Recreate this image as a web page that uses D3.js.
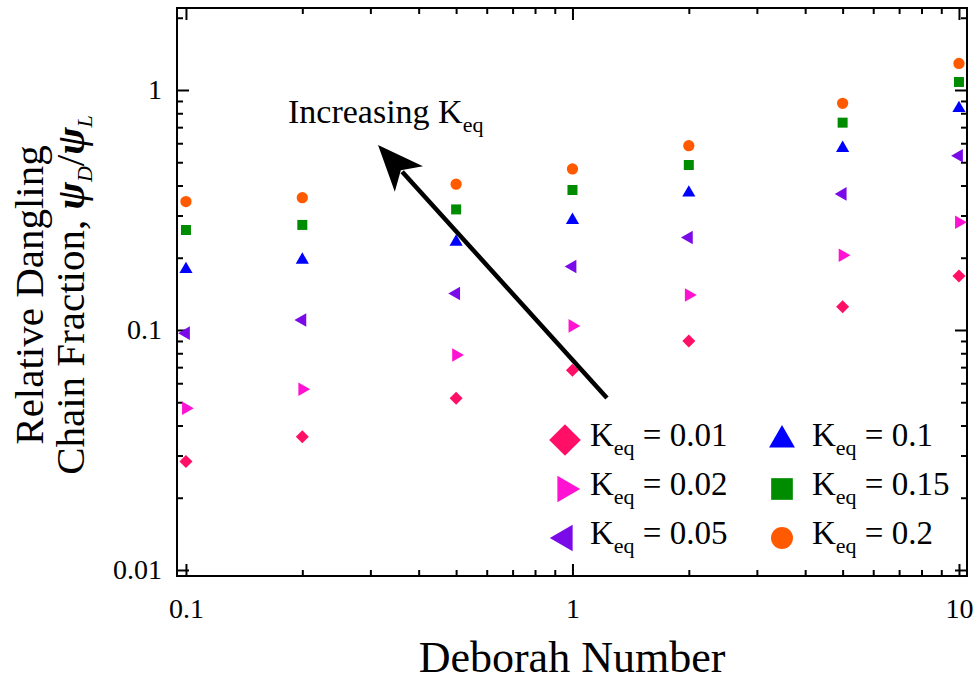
<!DOCTYPE html>
<html>
<head>
<meta charset="utf-8">
<script src="https://cdn.jsdelivr.net/npm/d3@7"></script>
<style>
  html, body { margin: 0; padding: 0; background: #fff; }
  svg { display: block; font-family: "Liberation Serif", "Times New Roman", serif; }
</style>
</head>
<body>
<svg id="chart" width="976" height="681"></svg>
<script>
// ---- data ----
const deborah = [0.1, 0.2, 0.5, 1, 2, 5, 10];
const keq001 = [0.0283, 0.0359, 0.0519, 0.068, 0.090, 0.125, 0.168];
const keq002 = [0.0472, 0.0566, 0.0787, 0.104, 0.140, 0.205, 0.281];
const keq005 = [0.097, 0.110, 0.142, 0.184, 0.243, 0.369, 0.532];
const keq010 = [0.179, 0.196, 0.233, 0.287, 0.373, 0.572, 0.839];
const keq015 = [0.261, 0.274, 0.318, 0.383, 0.487, 0.731, 1.08];
const keq020 = [0.343, 0.356, 0.405, 0.469, 0.586, 0.880, 1.29];
const seriesLabels = ["0.01", "0.02", "0.05", "0.1", "0.15", "0.2"];
const xTickValues = [0.1, 1, 10];
const xTickLabels = ["0.1", "1", "10"];
const yTickValues = [0.01, 0.1, 1];
const yTickLabels = ["0.01", "0.1", "1"];
const arrowTail = [1.228, 0.0521];
const arrowTip = [0.314, 0.590];

// ---- layout ----
const svg = d3.select("#chart");
const L = 177, R = 967, T = 8, B = 576;
const x = d3.scaleLog().domain([0.0948, 10.49]).range([L, R]);
const y = d3.scaleLog().domain([0.00944, 2.196]).range([B, T]);

const series = [
  {vals: keq001, color: "#FF0F66", type: d3.symbolSquare, rot: 45, size: 85, lsize: 500},
  {vals: keq002, color: "#FF12D2", type: d3.symbolTriangle, rot: 90, size: 80, lsize: 300},
  {vals: keq005, color: "#7A0AE8", type: d3.symbolTriangle, rot: -90, size: 80, lsize: 300},
  {vals: keq010, color: "#0000FF", type: d3.symbolTriangle, rot: 0, size: 75, lsize: 290},
  {vals: keq015, color: "#008C00", type: d3.symbolSquare, rot: 0, size: 100, lsize: 470},
  {vals: keq020, color: "#FF5A00", type: d3.symbolCircle, rot: 0, size: 100, lsize: 380}
];

// minor ticks
function minors(lo, hi) {
  const out = [];
  for (let d = lo; d < hi * 1.0001; d *= 10) {
    for (let k = 2; k <= 9; k++) out.push(+(d * k).toPrecision(3));
  }
  return out;
}
const xMinor = minors(0.1, 1).filter(v => v <= x.domain()[1]);
const yMinor = minors(0.01, 1).filter(v => v <= y.domain()[1]);

const axG = svg.append("g");
function styleAxis(g) {
  g.select(".domain").remove();
  g.selectAll("line").attr("stroke", "#000").attr("stroke-width", 2);
  g.selectAll("text").attr("font-size", 28).attr("fill", "#000")
    .attr("font-family", "Liberation Serif, Times New Roman, serif");
}
// bottom
axG.append("g").attr("transform", `translate(0,${B})`)
  .call(d3.axisBottom(x).tickValues(xTickValues).tickFormat((d, i) => xTickLabels[i]).tickSizeInner(-12).tickSizeOuter(0).tickPadding(22))
  .call(styleAxis);
axG.append("g").attr("transform", `translate(0,${B})`)
  .call(d3.axisBottom(x).tickValues(xMinor).tickFormat("").tickSizeInner(-6).tickSizeOuter(0))
  .call(styleAxis);
// top
axG.append("g").attr("transform", `translate(0,${T})`)
  .call(d3.axisTop(x).tickValues(xTickValues).tickFormat("").tickSizeInner(-12).tickSizeOuter(0))
  .call(styleAxis);
axG.append("g").attr("transform", `translate(0,${T})`)
  .call(d3.axisTop(x).tickValues(xMinor).tickFormat("").tickSizeInner(-6).tickSizeOuter(0))
  .call(styleAxis);
// left
axG.append("g").attr("transform", `translate(${L},0)`)
  .call(d3.axisLeft(y).tickValues(yTickValues).tickFormat((d, i) => yTickLabels[i]).tickSizeInner(-12).tickSizeOuter(0).tickPadding(15))
  .call(styleAxis);
axG.append("g").attr("transform", `translate(${L},0)`)
  .call(d3.axisLeft(y).tickValues(yMinor).tickFormat("").tickSizeInner(-6).tickSizeOuter(0))
  .call(styleAxis);
// right
axG.append("g").attr("transform", `translate(${R},0)`)
  .call(d3.axisRight(y).tickValues(yTickValues).tickFormat("").tickSizeInner(-12).tickSizeOuter(0))
  .call(styleAxis);
axG.append("g").attr("transform", `translate(${R},0)`)
  .call(d3.axisRight(y).tickValues(yMinor).tickFormat("").tickSizeInner(-6).tickSizeOuter(0))
  .call(styleAxis);

// frame
svg.append("rect").attr("x", L).attr("y", T).attr("width", R - L).attr("height", B - T)
  .attr("fill", "none").attr("stroke", "#000").attr("stroke-width", 2);

// points
series.forEach(s => {
  const sym = d3.symbol().type(s.type).size(s.size);
  svg.append("g").selectAll("path").data(deborah.map((d, i) => [d, s.vals[i]]))
    .join("path")
    .attr("d", sym)
    .attr("fill", s.color)
    .attr("transform", d => `translate(${x(d[0])},${y(d[1])}) rotate(${s.rot})`);
});

// arrow
(function () {
  const x0 = x(arrowTail[0]), y0 = y(arrowTail[1]);
  const x1 = x(arrowTip[0]), y1 = y(arrowTip[1]);
  const len = Math.hypot(x1 - x0, y1 - y0);
  const ux = (x1 - x0) / len, uy = (y1 - y0) / len;
  const px = -uy, py = ux;
  const headL = 46, headW = 19, notch = 34;
  svg.append("line")
    .attr("x1", x0).attr("y1", y0)
    .attr("x2", x1 - ux * (notch + 2)).attr("y2", y1 - uy * (notch + 2))
    .attr("stroke", "#000").attr("stroke-width", 4.5);
  const pts = [
    [x1, y1],
    [x1 - ux * headL + px * headW, y1 - uy * headL + py * headW],
    [x1 - ux * notch, y1 - uy * notch],
    [x1 - ux * headL - px * headW, y1 - uy * headL - py * headW]
  ];
  svg.append("polygon").attr("points", pts.map(p => p.join(",")).join(" ")).attr("fill", "#000");
})();

// annotation text
const ann = svg.append("text").attr("x", 288).attr("y", 123).attr("font-size", 34).attr("fill", "#000");
ann.append("tspan").text("Increasing K");
ann.append("tspan").attr("dy", 9).attr("font-size", 22).text("eq");

// legend
const legCols = [{mx: 565, tx: 590}, {mx: 782, tx: 812}];
const legRows = [440, 489, 538];
series.forEach((s, i) => {
  const c = legCols[Math.floor(i / 3)], r = legRows[i % 3];
  svg.append("path")
    .attr("d", d3.symbol().type(s.type).size(s.lsize))
    .attr("fill", s.color)
    .attr("transform", `translate(${c.mx},${r}) rotate(${s.rot})`);
  const t = svg.append("text").attr("x", c.tx).attr("y", r + 6).attr("font-size", 33).attr("fill", "#000");
  t.append("tspan").text("K");
  t.append("tspan").attr("dy", 9).attr("font-size", 22).text("eq");
  t.append("tspan").attr("dy", -9).text(" = " + seriesLabels[i]);
});

// axis titles
svg.append("text").attr("x", 572).attr("y", 672).attr("text-anchor", "middle")
  .attr("font-size", 44).attr("fill", "#000").text("Deborah Number");

const yt1 = svg.append("text").attr("transform", "translate(43,295) rotate(-90)")
  .attr("text-anchor", "middle").attr("font-size", 41).attr("fill", "#000");
yt1.text("Relative Dangling");
const yt2 = svg.append("text").attr("transform", "translate(84,295) rotate(-90)")
  .attr("text-anchor", "middle").attr("font-size", 41).attr("fill", "#000");
yt2.append("tspan").text("Chain Fraction, ");
yt2.append("tspan").attr("font-weight", "bold").attr("font-style", "italic").text("ψ");
yt2.append("tspan").attr("font-style", "italic").attr("font-size", 22).attr("dy", 8).text("D");
yt2.append("tspan").attr("dy", -8).text("/");
yt2.append("tspan").attr("font-weight", "bold").attr("font-style", "italic").text("ψ");
yt2.append("tspan").attr("font-style", "italic").attr("font-size", 22).attr("dy", 8).text("L");
</script>
</body>
</html>
